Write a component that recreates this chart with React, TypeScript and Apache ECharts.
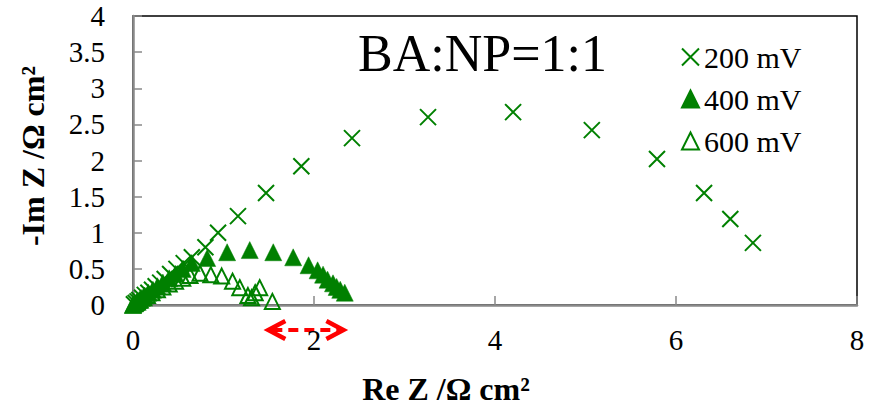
import React, { useEffect, useRef } from "react";
import * as echarts from "echarts";

// ---- data (Re Z, -Im Z) in Ω cm² ----
const mv200: number[][] = [
  [6.85, 0.86], [6.6, 1.19], [6.31, 1.55], [5.79, 2.02], [5.07, 2.42], [4.2, 2.67],
  [3.26, 2.6], [2.42, 2.31], [1.86, 1.92], [1.47, 1.55], [1.16, 1.23], [0.94, 1.0],
  [0.8, 0.8], [0.65, 0.66], [0.56, 0.58], [0.48, 0.5], [0.41, 0.43], [0.35, 0.36],
  [0.3, 0.31], [0.25, 0.26], [0.21, 0.21], [0.17, 0.17], [0.13, 0.14], [0.1, 0.1],
  [0.07, 0.07], [0.05, 0.05], [0.03, 0.03], [0.01, 0.01]
];
const mv400: number[][] = [
  [2.34, 0.17], [2.29, 0.21], [2.25, 0.25], [2.21, 0.3], [2.15, 0.35], [2.1, 0.42],
  [2.04, 0.48], [1.94, 0.55], [1.77, 0.66], [1.55, 0.73], [1.29, 0.76], [1.04, 0.73],
  [0.82, 0.65], [0.65, 0.58], [0.55, 0.5], [0.47, 0.43], [0.4, 0.37], [0.33, 0.31],
  [0.27, 0.26], [0.22, 0.21], [0.17, 0.17], [0.13, 0.13], [0.1, 0.1], [0.07, 0.07],
  [0.04, 0.04], [0.02, 0.02], [0.0, 0.0]
];
const mv600: number[][] = [
  [1.54, 0.05], [1.4, 0.24], [1.35, 0.17], [1.31, 0.1], [1.27, 0.13], [1.18, 0.24],
  [1.1, 0.33], [0.98, 0.4], [0.86, 0.42], [0.74, 0.44], [0.63, 0.41], [0.55, 0.37],
  [0.47, 0.33], [0.4, 0.29], [0.33, 0.25], [0.27, 0.21], [0.21, 0.17], [0.16, 0.13],
  [0.12, 0.1], [0.08, 0.07], [0.05, 0.04], [0.02, 0.02], [0.0, 0.0]
];
const seriesNames = ["200 mV", "400 mV", "600 mV"];
const annotationText = "BA:NP=1:1";
const xTitle = "Re Z /Ω cm²";
const yTitle = "-Im Z /Ω cm²";
const arrowRange = [1.44, 2.38];

const GREEN = "#008000";
const AXIS_GRAY = "#898989";
const FONT = "'Liberation Serif', 'Times New Roman', serif";
const CROSS = "path://M0,0L10,10M0,10L10,0";

export default function App() {
  const ref = useRef<HTMLDivElement>(null);
  useEffect(() => {
    document.body.style.margin = "0";
    if (!ref.current) return;
    const chart = echarts.init(ref.current, undefined, { renderer: "svg" });
    chart.setOption({
      animation: false,
      backgroundColor: "#fff",
      grid: {
        left: 133, right: 15, top: 16, bottom: 104,
        show: true, borderColor: "#000", borderWidth: 1.5, backgroundColor: "transparent"
      },
      xAxis: {
        type: "value", min: 0, max: 8, interval: 2,
        axisLine: { show: true, lineStyle: { color: AXIS_GRAY, width: 2.5 } },
        axisTick: { show: true, inside: true, length: 9, lineStyle: { color: AXIS_GRAY, width: 1.5 } },
        splitLine: { show: false },
        axisLabel: { color: "#000", fontSize: 29, fontFamily: FONT, margin: 20 }
      },
      yAxis: {
        type: "value", min: 0, max: 4, interval: 0.5,
        axisLine: { show: true, lineStyle: { color: AXIS_GRAY, width: 2.5 } },
        axisTick: { show: true, inside: true, length: 9, lineStyle: { color: AXIS_GRAY, width: 1.5 } },
        splitLine: { show: false },
        axisLabel: { color: "#000", fontSize: 29, fontFamily: FONT, margin: 28 }
      },
      legend: {
        orient: "vertical", left: 676, top: 37, itemGap: 12,
        itemWidth: 17, itemHeight: 17,
        textStyle: { fontSize: 30, fontFamily: FONT, color: "#000", lineHeight: 30 },
        data: seriesNames
      },
      series: [
        {
          type: "scatter", name: seriesNames[0], data: mv200, symbol: CROSS, symbolSize: 16,
          itemStyle: { color: "rgba(0,0,0,0)", borderColor: GREEN, borderWidth: 2, opacity: 1 }
        },
        {
          type: "scatter", name: seriesNames[1], data: mv400, symbol: "triangle", symbolSize: 17,
          itemStyle: { color: GREEN, borderColor: GREEN, borderWidth: 0.5, opacity: 1 }
        },
        {
          type: "scatter", name: seriesNames[2], data: mv600, symbol: "triangle", symbolSize: 15,
          itemStyle: { color: "rgba(255,255,255,0)", borderColor: GREEN, borderWidth: 2, opacity: 1 }
        }
      ]
    });

    const x0 = chart.convertToPixel({ xAxisIndex: 0 }, arrowRange[0]) as number;
    const x1 = chart.convertToPixel({ xAxisIndex: 0 }, arrowRange[1]) as number;
    const yAxisPx = chart.convertToPixel({ yAxisIndex: 0 }, 0) as number;
    const ay = yAxisPx + 25;
    const RED = "#ff0000";
    chart.setOption({
      graphic: [
        {
          type: "text", left: 358, top: 27,
          style: { text: annotationText, fontSize: 52, fontFamily: FONT, fill: "#000" }
        },
        {
          type: "text", x: 446, y: 389,
          style: { text: xTitle, fontSize: 32, fontWeight: "bold", fontFamily: FONT, fill: "#000", textAlign: "center", textVerticalAlign: "middle" }
        },
        {
          type: "text", x: 33, y: 156, rotation: Math.PI / 2,
          style: { text: yTitle, fontSize: 32, fontWeight: "bold", fontFamily: FONT, fill: "#000", textAlign: "center", textVerticalAlign: "middle" }
        },
        {
          type: "line",
          shape: { x1: x0 + 9, y1: ay, x2: x1 - 9, y2: ay },
          style: { stroke: RED, lineWidth: 4, lineDash: [10, 6] }
        },
        {
          type: "polyline",
          shape: { points: [[x0 + 22, ay - 9], [x0 + 5, ay], [x0 + 22, ay + 9]] },
          style: { stroke: RED, lineWidth: 4.5, fill: "none", lineJoin: "miter" }
        },
        {
          type: "polyline",
          shape: { points: [[x1 - 22, ay - 9], [x1 - 5, ay], [x1 - 22, ay + 9]] },
          style: { stroke: RED, lineWidth: 4.5, fill: "none", lineJoin: "miter" }
        }
      ]
    });
    return () => chart.dispose();
  }, []);
  return <div ref={ref} style={{ width: 872, height: 409 }} />;
}
